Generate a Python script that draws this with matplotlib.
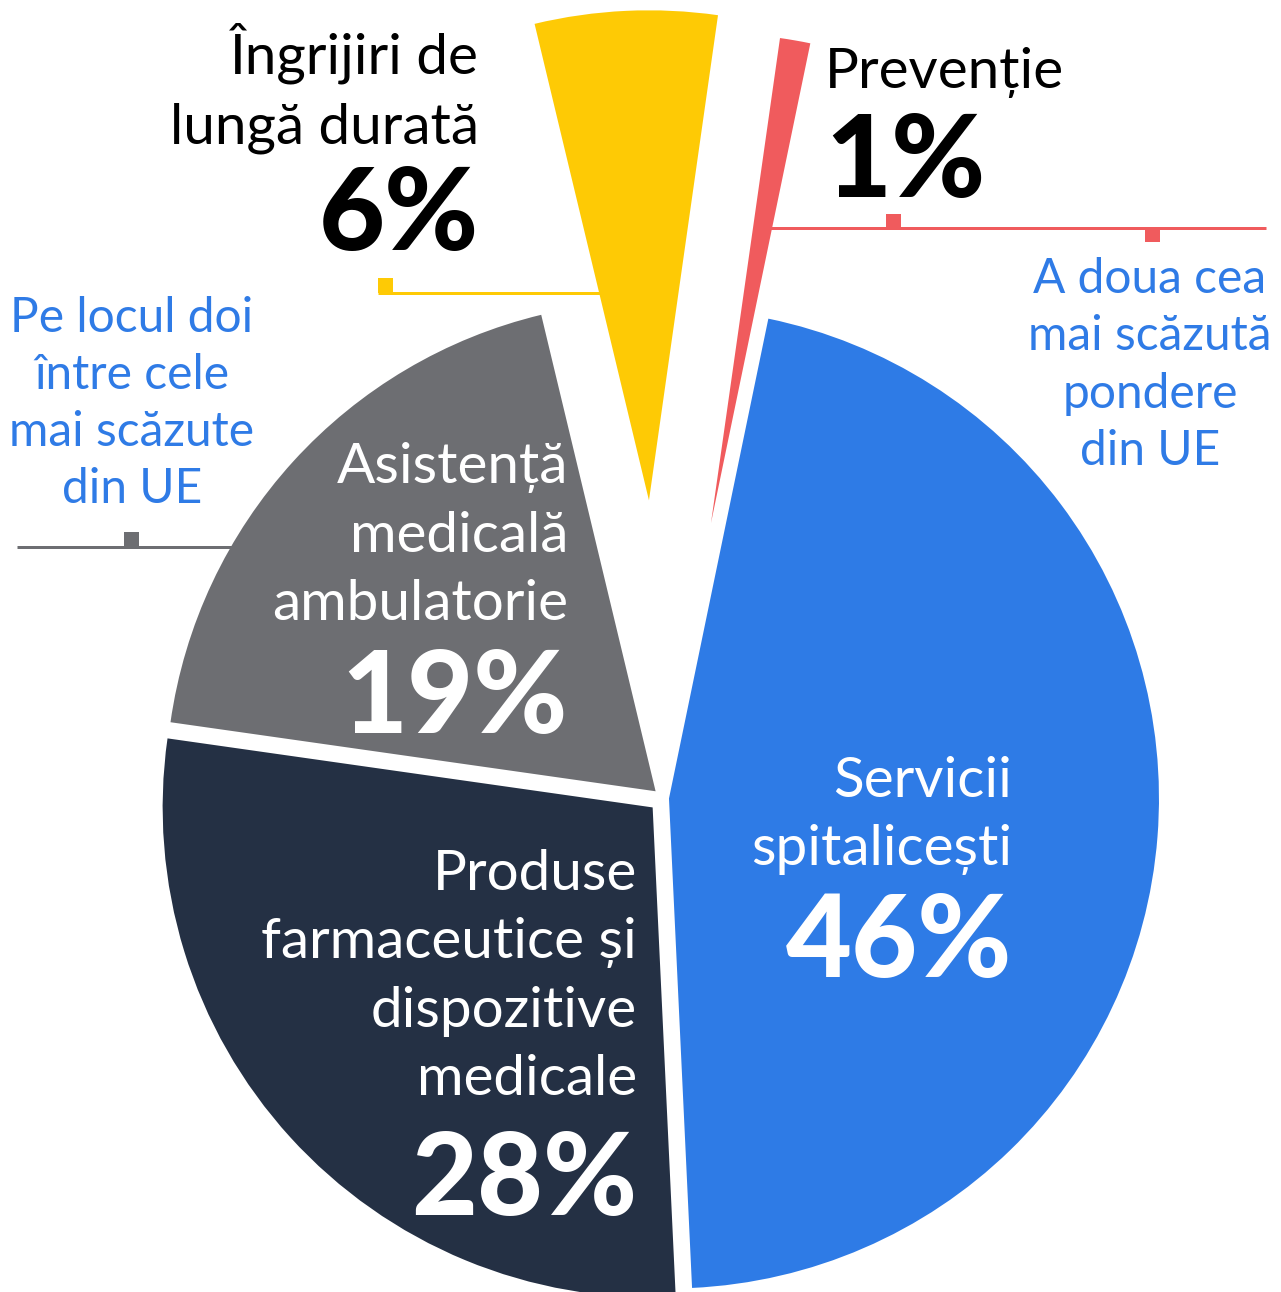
import matplotlib
matplotlib.use("Agg")
import matplotlib.pyplot as plt
from matplotlib.patches import Rectangle

W, H = 1281, 1292

# %% data
categories = ["Servicii\nspitalicești",
              "Produse\nfarmaceutice și\ndispozitive\nmedicale",
              "Asistență\nmedicală\nambulatorie",
              "Îngrijiri de\nlungă durată",
              "Prevenție"]
shares = [46, 28, 19, 6, 1]
pct_labels = ["46%", "28%", "19%", "6%", "1%"]
notes = ["A doua cea\nmai scăzută\npondere\ndin UE",
         "Pe locul doi\nîntre cele\nmai scăzute\ndin UE"]

# %% style
colors = ["#2E7BE6", "#243044", "#6D6E72", "#FECA05", "#F05B5D"]
note_blue = "#2F7BE6"
R = 490
# pie explode is in data units (pixels here)
explode = [6, 14, 10, 298, 279]

plt.rcParams['font.family'] = ['Lato', 'DejaVu Sans']

fig = plt.figure(figsize=(W / 100, H / 100), dpi=100)
ax = fig.add_axes([0, 0, 1, 1])

wedges, _ = ax.pie(shares, colors=colors, explode=explode, radius=R,
                   center=(663, H - 798), startangle=78.3, counterclock=False,
                   wedgeprops=dict(linewidth=0, zorder=3))
ax.set_xlim(0, W)
ax.set_ylim(0, H)
ax.set_aspect('equal')
ax.axis('off')


def put_lines(x, y0, txt, step, **kw):
    for i, line in enumerate(txt.split("\n")):
        ax.text(x, H - (y0 + i * step), line, va='baseline', zorder=5, **kw)


# label layout: x, first baseline, line step, percent baseline, align, colour
layout = [(1012, 797, 68, 977, 'right', 'white'),
          (637, 890, 68.3, 1215, 'right', 'white'),
          (568, 483, 68.5, 733, 'right', 'white'),
          (479, 74, 69, 250, 'right', 'black'),
          (825, 88, 68, 197, 'left', 'black')]

for cat, pct, (x, y0, step, yp, ha, c) in zip(categories, pct_labels, layout):
    put_lines(x, y0, cat, step, ha=ha, color=c, fontsize=40.8)
    ax.text(x, H - yp, pct, ha=ha, va='baseline', color=c, fontsize=82,
            fontweight='black', zorder=5)

# side notes
put_lines(1150, 293, notes[0], 57.3, ha='center', color=note_blue, fontsize=34.5)
put_lines(132, 332, notes[1], 57, ha='center', color=note_blue, fontsize=34.5)

# leader lines with small square ticks
lw = 3 * 72 / 100
ax.plot([762, 1266], [H - 228, H - 228], color=colors[4], lw=lw,
        solid_capstyle='butt', zorder=2)
ax.add_patch(Rectangle((886, H - 228), 15, 14, color=colors[4], lw=0, zorder=2))
ax.add_patch(Rectangle((1145, H - 242), 15, 14, color=colors[4], lw=0, zorder=2))

ax.plot([378, 610], [H - 292.5, H - 292.5], color=colors[3], lw=lw,
        solid_capstyle='butt', zorder=2)
ax.add_patch(Rectangle((378, H - 292.5), 15, 15, color=colors[3], lw=0, zorder=2))

ax.plot([17, 250], [H - 547, H - 547], color=colors[2], lw=lw,
        solid_capstyle='butt', zorder=2)
ax.add_patch(Rectangle((124, H - 547), 15, 15, color=colors[2], lw=0, zorder=2))

fig.savefig("out.png", dpi=100, facecolor='white')
